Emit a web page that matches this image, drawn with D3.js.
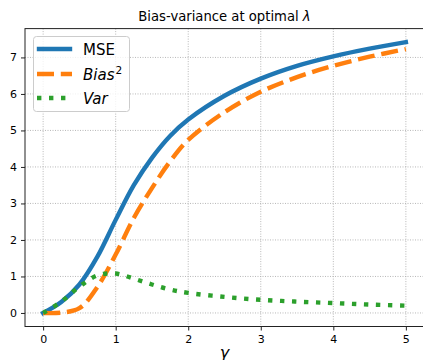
<!DOCTYPE html>
<html>
<head>
<meta charset="utf-8">
<script src="https://cdn.jsdelivr.net/npm/d3@7"></script>
<style>
  body { margin: 0; background: white; }
  text { font-family: "DejaVu Sans", sans-serif; fill: #000; }
</style>
</head>
<body>
<div id="chart"></div>
<script>
const gammas = [0, 0.25, 0.5, 0.75, 1, 1.25, 1.5, 1.75, 2, 2.5, 3, 3.5, 4, 4.5, 5];
const mse = [0, 0.3, 0.78, 1.55, 2.55, 3.5, 4.25, 4.85, 5.3, 5.95, 6.42, 6.77, 7.03, 7.24, 7.42];
const bias2 = [0, 0.01, 0.13, 0.72, 1.6, 2.6, 3.42, 4.15, 4.74, 5.5, 6.06, 6.46, 6.77, 7.02, 7.23];
const variance = [0, 0.31, 0.72, 1.03, 1.08, 0.94, 0.78, 0.64, 0.55, 0.44, 0.36, 0.31, 0.27, 0.23, 0.2];
const xTicks = [0, 1, 2, 3, 4, 5];
const yTicks = [0, 1, 2, 3, 4, 5, 6, 7];

const width = 423, height = 360;
const plotLeft = 25, plotRight = 424, plotTop = 28.6, plotBottom = 326.5;

let svg = d3
  .select("#chart")
  .append("svg")
  .attr("width", width)
  .attr("height", height);

let x = d3.scaleLinear().domain([-0.25, 5.25]).range([plotLeft, plotRight]);
let y = d3.scaleLinear().domain([-0.371, 7.79]).range([plotBottom, plotTop]);

// grid
svg.append("g")
  .selectAll("line")
  .data(xTicks)
  .join("line")
  .attr("x1", d => x(d))
  .attr("x2", d => x(d))
  .attr("y1", plotTop)
  .attr("y2", plotBottom)
  .attr("stroke", "#b0b0b0")
  .attr("stroke-width", 0.9)
  .attr("stroke-dasharray", "1,1.5");

svg.append("g")
  .selectAll("line")
  .data(yTicks)
  .join("line")
  .attr("x1", plotLeft)
  .attr("x2", plotRight)
  .attr("y1", d => y(d))
  .attr("y2", d => y(d))
  .attr("stroke", "#b0b0b0")
  .attr("stroke-width", 0.9)
  .attr("stroke-dasharray", "1,1.5");

// axes
let xAxis = svg.append("g")
  .attr("transform", `translate(0,${plotBottom})`)
  .call(d3.axisBottom(x).tickValues(xTicks).tickSize(4).tickPadding(5).tickFormat(d3.format("d")));

let yAxis = svg.append("g")
  .attr("transform", `translate(${plotLeft},0)`)
  .call(d3.axisLeft(y).tickValues(yTicks).tickSize(4).tickPadding(4).tickFormat(d3.format("d")));

[xAxis, yAxis].forEach(a => {
  a.select(".domain").remove();
  a.selectAll("text")
    .attr("font-family", "DejaVu Sans, sans-serif")
    .attr("font-size", 11)
    .attr("fill", "#222");
  a.selectAll(".tick line").attr("stroke", "#222");
});

// spines
svg.append("rect")
  .attr("x", plotLeft)
  .attr("y", plotTop)
  .attr("width", plotRight - plotLeft)
  .attr("height", plotBottom - plotTop)
  .attr("fill", "none")
  .attr("stroke", "#222")
  .attr("stroke-width", 1);

let series = [
  { name: "mse", values: mse, color: "#1f77b4", dash: null, cap: "square" },
  { name: "bias", values: bias2, color: "#ff7f0e", dash: "17,6.8", cap: "butt" },
  { name: "var", values: variance, color: "#2ca02c", dash: "4.4,7.6", cap: "butt" }
];

let line = d3.line()
  .x((d, i) => x(gammas[i]))
  .y(d => y(d))
  .curve(d3.curveCatmullRom.alpha(0.5));

let plot = svg.append("g");

series.forEach(s => {
  plot.append("path")
    .attr("d", line(s.values))
    .attr("fill", "none")
    .attr("stroke", s.color)
    .attr("stroke-width", 4.4)
    .attr("stroke-linecap", s.cap)
    .attr("stroke-linejoin", "round")
    .attr("stroke-dasharray", s.dash);
});

// title
let title = svg.append("text")
  .attr("x", (plotLeft + plotRight) / 2)
  .attr("y", 21)
  .attr("text-anchor", "middle")
  .attr("font-size", 13.2);
title.append("tspan").text("Bias-variance at optimal ");
title.append("tspan").attr("font-style", "italic").text("λ");

// x label
svg.append("text")
  .attr("x", (plotLeft + plotRight) / 2)
  .attr("y", 358)
  .attr("text-anchor", "middle")
  .attr("font-size", 16)
  .attr("font-style", "italic")
  .text("γ");

// legend
let legend = svg.append("g");

legend.append("rect")
  .attr("x", 33.5)
  .attr("y", 36.5)
  .attr("width", 96)
  .attr("height", 75)
  .attr("rx", 3)
  .attr("fill", "white")
  .attr("fill-opacity", 0.8)
  .attr("stroke", "#cccccc")
  .attr("stroke-width", 1);

let rows = [49, 74, 98];

series.forEach((s, i) => {
  legend.append("line")
    .attr("x1", s.cap === "square" ? 39 : 37)
    .attr("x2", s.cap === "square" ? 70 : 72)
    .attr("y1", rows[i])
    .attr("y2", rows[i])
    .attr("stroke", s.color)
    .attr("stroke-width", 4.4)
    .attr("stroke-linecap", s.cap)
    .attr("stroke-dasharray", s.dash);
});

legend.append("text")
  .attr("x", 83)
  .attr("y", rows[0] + 5.5)
  .attr("font-size", 15)
  .text("MSE");

let biasLabel = legend.append("text")
  .attr("x", 83)
  .attr("y", rows[1] + 5.5)
  .attr("font-size", 15);
biasLabel.append("tspan").attr("font-style", "italic").text("Bias");
biasLabel.append("tspan")
  .attr("font-size", 10.5)
  .attr("dy", -6)
  .attr("dx", 1)
  .text("2");

legend.append("text")
  .attr("x", 83)
  .attr("y", rows[2] + 5.5)
  .attr("font-size", 15)
  .attr("font-style", "italic")
  .text("Var");
</script>
</body>
</html>
